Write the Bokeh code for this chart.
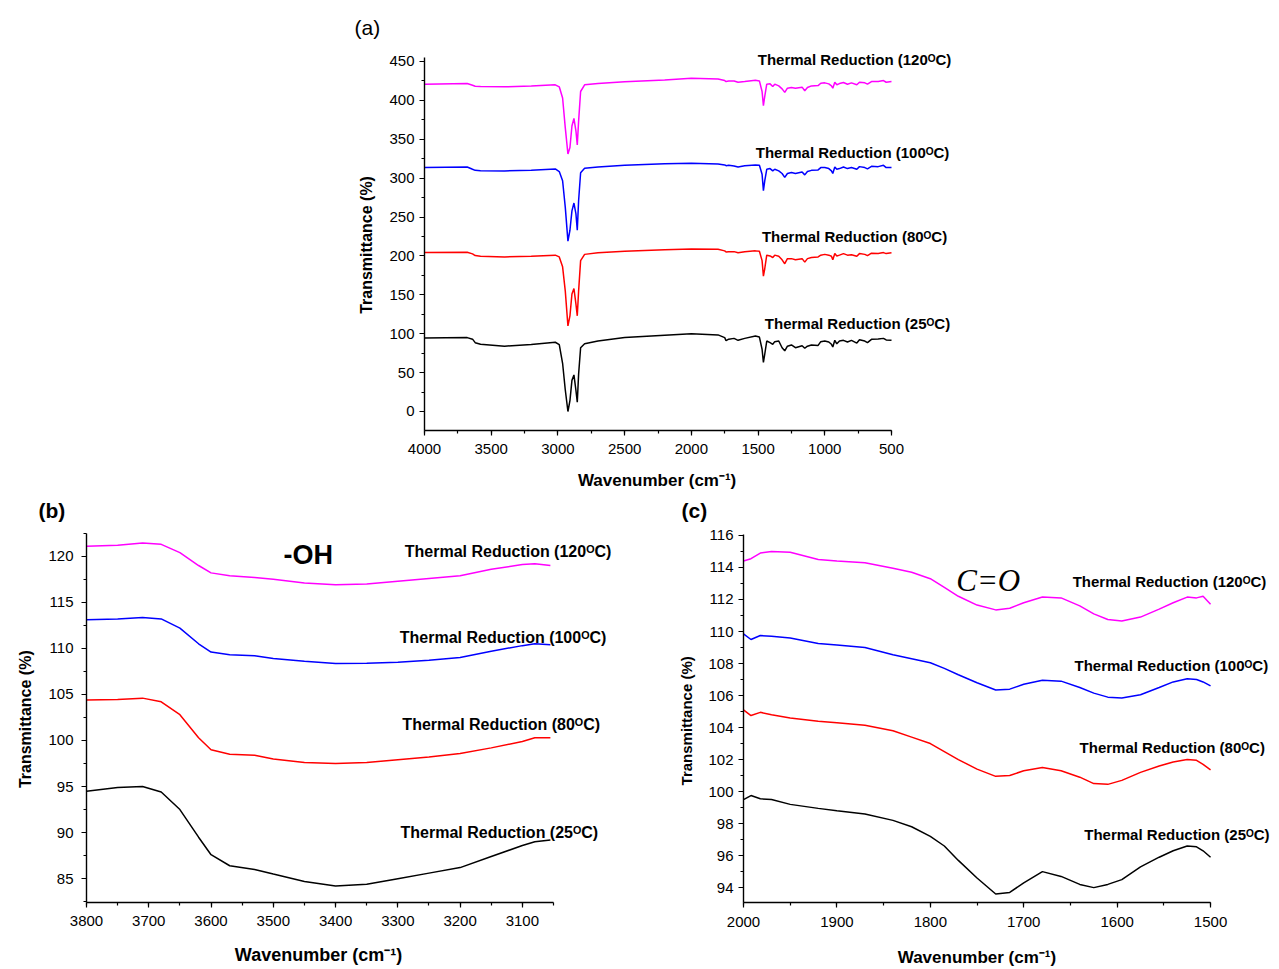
from bokeh.plotting import figure
from bokeh.layouts import column, row
from bokeh.models import Range1d, SingleIntervalTicker, Label, Title
from bokeh.embed import file_html
from bokeh.resources import INLINE

# ---------------- data ----------------
# Panel (a): full spectra (offset stacked)
wave_a = [4000, 3680, 3640, 3620, 3580, 3400, 3200, 3020, 2990, 2965, 2945, 2925, 2910, 2895, 2880,
          2865, 2855, 2845, 2830, 2800, 2700, 2500, 2200, 2000, 1800, 1750, 1740, 1720, 1680, 1650,
          1600, 1520, 1490, 1470, 1460, 1450, 1435, 1410, 1390, 1375, 1345, 1320, 1300, 1280, 1250,
          1220, 1170, 1150, 1130, 1100, 1050, 1030, 1000, 970, 950, 940, 925, 910, 890, 860,
          830, 800, 760, 740, 700, 680, 650, 600, 560, 540, 500]
a_25 = [94.5, 95, 93, 88.5, 86.4, 84, 86, 89, 86, 62, 28, 0, 14, 40, 47,
        27, 12, 48, 82, 87, 90.6, 95, 98, 100, 98.5, 95, 91, 93, 94, 91.5,
        94, 97, 95.7, 80, 63, 73.6, 90.6, 88.5, 86.4, 89.8, 90.6, 82, 78, 84, 85.5,
        82, 84.6, 81.3, 84, 85.5, 85, 89.8, 90.6, 89.4, 86.4, 83, 91.5, 87, 90.6, 91.5,
        89.4, 91.5, 88, 92.3, 90.6, 88.5, 92.8, 93.2, 94, 92, 91.5]
a_80 = [204.3, 204.8, 202.6, 200.4, 199.5, 198.7, 199.5, 201, 198.7, 186, 155, 110, 123, 151, 158,
        138, 123, 155, 194, 202, 204, 206, 208, 209, 208.5, 206.5, 205, 205.5, 205.5, 204,
        205.5, 206.5, 206, 194, 174, 183.5, 201, 200, 198, 201, 199.6, 195, 190, 196.5, 196.5,
        195, 196.5, 192, 196.5, 198, 198.7, 201, 202, 201, 199.6, 195, 203, 200, 201, 203,
        201, 201.5, 199.6, 203, 202, 200.4, 203.5, 203, 204.3, 203, 204]
a_100 = [313.6, 314.4, 311.4, 310, 309.6, 309.3, 310, 311.9, 308.5, 296.6, 262.7, 219, 233, 258, 268,
         254, 233, 271, 307, 312.7, 314.4, 316.5, 318.6, 319, 318.2, 317, 316, 316.5, 315.7, 314.4,
         316, 317, 316.5, 305, 284, 296.6, 311.4, 312.3, 309.3, 311.4, 309.3, 306, 301, 306, 307.2,
         306, 308, 304.2, 308.5, 310, 310.6, 313.6, 313.6, 312.3, 309.3, 306, 314.4, 311.4, 312.3, 314.4,
         312.3, 313.6, 311.4, 314.8, 313.6, 312, 315.2, 314.8, 316.5, 313.6, 313.6]
a_120 = [420.8, 421.6, 419.5, 418.2, 417.8, 417.4, 418.6, 420, 417.4, 403, 365, 331, 339.4, 367, 376.7,
         360.6, 342.8, 373.3, 411.4, 420, 421.6, 424, 426.3, 428.4, 427.5, 425.4, 424.2, 425, 425, 423.3,
         424.2, 425.8, 425, 411.4, 393.2, 405, 420.8, 421.2, 417.8, 420.8, 418.6, 414.8, 410.2, 415.7, 416.5,
         415.7, 417, 412.3, 416.5, 418.6, 419, 422, 422.5, 421.2, 418.6, 415.7, 423.3, 420, 421.6, 422.9,
         420.8, 422.5, 420, 423.3, 422.5, 420.8, 424.2, 424.2, 425.4, 423.3, 424.2]

# Panel (b): -OH region
wave_b = [3800, 3750, 3710, 3680, 3650, 3620, 3600, 3570, 3530, 3500, 3450, 3400, 3350, 3300, 3250,
          3200, 3150, 3100, 3080, 3055]
b_25 = [94.5, 94.9, 95.0, 94.4, 92.5, 89.5, 87.6, 86.4, 86.0, 85.5, 84.7, 84.2, 84.4, 85.0, 85.6,
        86.2, 87.4, 88.6, 89.0, 89.2]
b_80 = [104.4, 104.45, 104.6, 104.2, 102.8, 100.3, 99.0, 98.5, 98.4, 98.0, 97.6, 97.5, 97.6, 97.9, 98.2,
        98.6, 99.2, 99.9, 100.3, 100.3]
b_100 = [113.1, 113.2, 113.35, 113.2, 112.2, 110.5, 109.6, 109.3, 109.2, 108.9, 108.6, 108.35, 108.4, 108.5, 108.7,
         109.0, 109.7, 110.3, 110.5, 110.4]
b_120 = [121.1, 121.2, 121.45, 121.3, 120.4, 119.0, 118.2, 117.9, 117.7, 117.5, 117.1, 116.9, 117.0, 117.3, 117.6,
         117.9, 118.6, 119.1, 119.2, 119.0]

# Panel (c): C=O region
wave_c = [2000, 1992, 1982, 1970, 1950, 1920, 1900, 1870, 1840, 1820, 1800, 1785, 1770, 1750, 1730,
          1715, 1700, 1680, 1660, 1640, 1625, 1610, 1595, 1575, 1555, 1540, 1525, 1515, 1508, 1500]
c_25 = [99.5, 99.75, 99.55, 99.5, 99.2, 98.95, 98.8, 98.6, 98.2, 97.8, 97.2, 96.6, 95.7, 94.6, 93.6,
        93.7, 94.3, 95.0, 94.7, 94.2, 94.0, 94.2, 94.5, 95.3, 95.9, 96.3, 96.6, 96.55, 96.3, 95.9]
c_80 = [105.1, 104.75, 104.95, 104.8, 104.6, 104.4, 104.3, 104.15, 103.8, 103.4, 103.0, 102.5, 102.0, 101.4, 100.95,
        101.0, 101.3, 101.5, 101.3, 100.9, 100.5, 100.45, 100.7, 101.2, 101.6, 101.85, 102.0, 101.95, 101.7, 101.35]
c_100 = [109.85, 109.5, 109.75, 109.7, 109.6, 109.25, 109.15, 109.0, 108.55, 108.3, 108.05, 107.7, 107.3, 106.8, 106.35,
         106.4, 106.7, 106.95, 106.9, 106.5, 106.15, 105.9, 105.85, 106.05, 106.5, 106.85, 107.05, 107.0, 106.85, 106.6]
c_120 = [114.4, 114.55, 114.9, 115.0, 114.95, 114.5, 114.4, 114.3, 113.95, 113.7, 113.3, 112.75, 112.2, 111.65, 111.35,
         111.45, 111.8, 112.15, 112.1, 111.6, 111.1, 110.75, 110.65, 110.9, 111.4, 111.8, 112.15, 112.1, 112.2, 111.7]

labels = ["Thermal Reduction (120ᴼC)", "Thermal Reduction (100ᴼC)",
          "Thermal Reduction (80ᴼC)", "Thermal Reduction (25ᴼC)"]
colors = ["#FF00FF", "#0000FF", "#FF0000", "#000000"]

FONT = "Liberation Sans"
XLABEL = "Wavenumber (cm⁻¹)"
YLABEL = "Transmittance (%)"
NB = "\u00a0"  # invisible padding used to centre axis titles on the drawn axis span


def style(p, xint, yint, xb, yb, xlab, ylab, xfs, yfs, tick_std_x, tick_std_y, lab_std_x, lab_std_y):
    p.outline_line_color = None
    p.grid.visible = False
    p.background_fill_color = "white"
    p.border_fill_color = "white"
    p.xaxis.ticker = SingleIntervalTicker(interval=xint, num_minor_ticks=2)
    p.yaxis.ticker = SingleIntervalTicker(interval=yint, num_minor_ticks=2)
    p.xaxis.bounds = xb
    p.yaxis.bounds = yb
    for ax in (p.xaxis[0], p.yaxis[0]):
        ax.axis_line_width = 1.4
        ax.axis_line_color = "black"
        ax.major_tick_line_color = "black"
        ax.minor_tick_line_color = "black"
        ax.major_tick_line_width = 1.2
        ax.minor_tick_line_width = 1.2
        ax.major_tick_out = 5
        ax.major_tick_in = 0
        ax.minor_tick_out = 3
        ax.minor_tick_in = 0
        ax.major_label_text_font = FONT
        ax.major_label_text_font_size = "15px"
        ax.major_label_text_color = "black"
        ax.axis_label_text_font = FONT
        ax.axis_label_text_font_style = "bold"
        ax.axis_label_text_color = "black"
    p.xaxis.axis_label = xlab
    p.yaxis.axis_label = ylab
    p.xaxis.axis_label_text_font_size = xfs
    p.yaxis.axis_label_text_font_size = yfs
    p.xaxis.major_label_standoff = tick_std_x
    p.yaxis.major_label_standoff = tick_std_y
    p.xaxis.axis_label_standoff = lab_std_x
    p.yaxis.axis_label_standoff = lab_std_y


def add_label(p, x, y, text, size="15px", style_="bold", font=FONT, align="center"):
    p.add_layout(Label(x=x, y=y, text=text, text_font=font, text_font_size=size,
                       text_font_style=style_, text_color="black", text_align=align,
                       text_baseline="middle"))


def add_panel_title(p, text, offset, standoff, style_="bold"):
    p.add_layout(Title(text=text, align="left", offset=offset, standoff=standoff,
                       text_font=FONT, text_font_size="21px", text_font_style=style_,
                       text_color="black"), "above")


# ---------------- panel (a) ----------------
pa = figure(width=1279, height=495, output_backend="svg", toolbar_location=None,
            x_range=Range1d(4000, -17.1), y_range=Range1d(-24.43, 464.1),
            min_border_left=424, min_border_right=319, min_border_top=50, min_border_bottom=65)
style(pa, 500, 50, (500, 4000), (-24.43, 455), XLABEL + NB * 15, YLABEL + NB * 2,
      "17px", "16px", 8, 5, 14, 11)
for ys, c in zip([a_120, a_100, a_80, a_25], colors):
    pa.line(wave_a, ys, line_color=c, line_width=1.5)
for t, xv, yv in zip(labels, [777, 792, 777, 755], [452, 333, 225, 113]):
    add_label(pa, xv, yv, t)
add_panel_title(pa, "(a)", -70, 24, style_="normal")

# ---------------- panel (b) ----------------
pb = figure(width=640, height=474, output_backend="svg", toolbar_location=None,
            x_range=Range1d(3800, 2942.4), y_range=Range1d(82.41, 123.67),
            min_border_left=86, min_border_right=20, min_border_top=27, min_border_bottom=65)
style(pb, 100, 5, (3050, 3800), (82.41, 122.5), XLABEL + NB * 14, YLABEL + NB * 3,
      "18px", "16px", 8, 8, 16, 11)
for ys, c in zip([b_120, b_100, b_80, b_25], colors):
    pb.line(wave_b, ys, line_color=c, line_width=1.5)
for t, xv, yv in zip(labels, [3123, 3131, 3134, 3137], [120.5, 111.2, 101.7, 90.0]):
    add_label(pb, xv, yv, t, size="16px")
add_label(pb, 3444, 120.1, "-OH", size="27px")
add_panel_title(pb, "(b)", -48, 2)

# ---------------- panel (c) ----------------
pc = figure(width=639, height=474, output_backend="svg", toolbar_location=None,
            x_range=Range1d(2000, 1429.4), y_range=Range1d(93.07, 116.81),
            min_border_left=103, min_border_right=3, min_border_top=27, min_border_bottom=65)
style(pc, 100, 2, (1500, 2000), (93.07, 116.05), XLABEL + NB * 14, YLABEL + NB * 4,
      "17px", "15px", 9, 5, 18, 10)
for ys, c in zip([c_120, c_100, c_80, c_25], colors):
    pc.line(wave_c, ys, line_color=c, line_width=1.5)
for t, xv, yv in zip(labels, [1544, 1542, 1541, 1536], [113.1, 107.9, 102.75, 97.3]):
    add_label(pc, xv, yv, t)
add_label(pc, 1738, 113.2, "C=O", size="31px", style_="italic", font="Liberation Serif")
add_panel_title(pc, "(c)", -62, 2)

layout = column(pa, row(pb, pc, spacing=0), spacing=0)
open("out.html", "w").write(file_html(layout, INLINE))
